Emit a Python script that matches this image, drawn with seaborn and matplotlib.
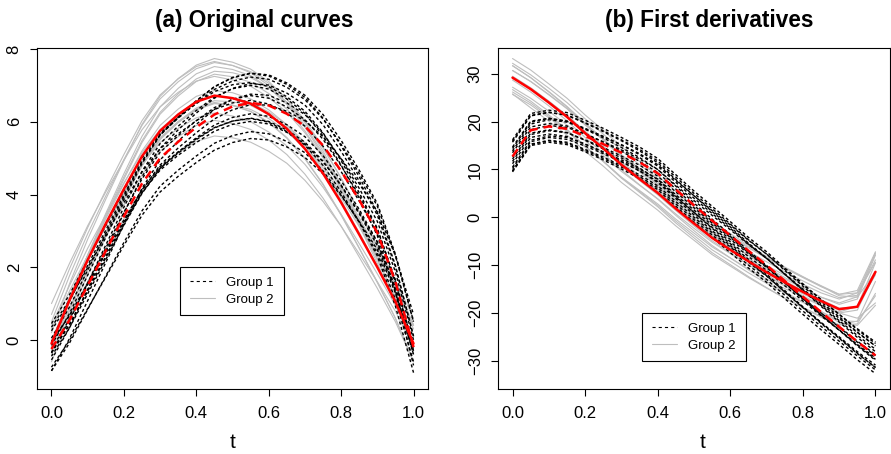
import matplotlib
matplotlib.use("Agg")
import matplotlib.pyplot as plt
import numpy as np
import pandas as pd
import seaborn as sns
from matplotlib.lines import Line2D

# Common evaluation grid on [0, 1]
t_grid = [0.0, 0.05, 0.1, 0.15, 0.2, 0.25, 0.3, 0.35, 0.4, 0.45, 0.5,
          0.55, 0.6, 0.65, 0.7, 0.75, 0.8, 0.85, 0.9, 0.95, 1.0]

# (a) original curves, group 1
grp1_curves = [
    [-0.15, 0.73, 1.78, 2.82, 3.86, 4.85, 5.63, 6.12, 6.57, 6.96, 7.21, 7.33, 7.26, 7.03, 6.67, 6.10, 5.34, 4.49, 3.51, 2.05, 0.10],
    [-0.75, -0.01, 0.86, 1.73, 2.60, 3.43, 4.07, 4.50, 4.88, 5.22, 5.43, 5.54, 5.50, 5.31, 5.02, 4.57, 3.97, 3.26, 2.48, 1.29, -0.30],
    [0.05, 0.91, 1.92, 2.93, 3.94, 4.90, 5.65, 6.14, 6.58, 6.97, 7.22, 7.34, 7.29, 7.07, 6.73, 6.20, 5.49, 4.67, 3.75, 2.36, 0.50],
    [-0.05, 0.68, 1.56, 2.43, 3.30, 4.13, 4.77, 5.17, 5.53, 5.84, 6.02, 6.10, 6.01, 5.78, 5.44, 4.92, 4.24, 3.47, 2.60, 1.31, -0.40],
    [-0.35, 0.42, 1.34, 2.26, 3.18, 4.05, 4.72, 5.14, 5.51, 5.83, 6.02, 6.09, 5.99, 5.73, 5.36, 4.80, 4.07, 3.24, 2.31, 0.93, -0.90],
    [-0.85, 0.04, 1.08, 2.13, 3.18, 4.17, 4.95, 5.47, 5.93, 6.34, 6.62, 6.76, 6.73, 6.52, 6.20, 5.68, 4.98, 4.17, 3.26, 1.87, 0.00],
    [0.35, 1.10, 1.99, 2.88, 3.77, 4.62, 5.26, 5.67, 6.03, 6.34, 6.52, 6.59, 6.49, 6.24, 5.88, 5.33, 4.63, 3.82, 2.92, 1.58, -0.20],
    [-0.25, 0.57, 1.55, 2.53, 3.51, 4.43, 5.16, 5.62, 6.03, 6.39, 6.62, 6.72, 6.65, 6.41, 6.06, 5.52, 4.79, 3.97, 3.04, 1.65, -0.20],
    [-0.35, 0.44, 1.37, 2.30, 3.23, 4.12, 4.81, 5.28, 5.70, 6.08, 6.33, 6.47, 6.46, 6.29, 6.03, 5.59, 4.99, 4.30, 3.52, 2.32, 0.70],
    [-0.35, 0.53, 1.57, 2.61, 3.65, 4.64, 5.40, 5.88, 6.31, 6.68, 6.91, 7.00, 6.90, 6.63, 6.23, 5.61, 4.81, 3.90, 2.87, 1.34, -0.70],
    [-0.85, -0.08, 0.84, 1.76, 2.68, 3.55, 4.23, 4.67, 5.06, 5.41, 5.62, 5.73, 5.67, 5.46, 5.15, 4.65, 3.99, 3.24, 2.39, 1.11, -0.60],
    [0.25, 1.07, 2.05, 3.02, 3.99, 4.92, 5.64, 6.10, 6.52, 6.89, 7.12, 7.23, 7.17, 6.95, 6.61, 6.08, 5.38, 4.58, 3.68, 2.32, 0.50],
    [-0.05, 0.67, 1.52, 2.38, 3.24, 4.05, 4.67, 5.08, 5.43, 5.74, 5.93, 6.01, 5.94, 5.71, 5.39, 4.90, 4.26, 3.51, 2.69, 1.45, -0.20],
    [-0.55, 0.34, 1.39, 2.44, 3.49, 4.49, 5.27, 5.78, 6.24, 6.65, 6.92, 7.05, 7.01, 6.79, 6.46, 5.92, 5.19, 4.37, 3.43, 2.01, 0.10],
    [-0.45, 0.34, 1.27, 2.21, 3.15, 4.03, 4.72, 5.17, 5.56, 5.91, 6.12, 6.22, 6.15, 5.92, 5.59, 5.07, 4.38, 3.59, 2.70, 1.37, -0.40],
    [0.45, 1.25, 2.20, 3.15, 4.10, 5.00, 5.69, 6.12, 6.50, 6.83, 7.02, 7.08, 6.97, 6.69, 6.29, 5.70, 4.93, 4.05, 3.07, 1.62, -0.30],
]

# (a) original curves, group 2
grp2_curves = [
    [0.20, 1.55, 2.77, 3.87, 4.93, 5.93, 6.70, 7.19, 7.56, 7.74, 7.64, 7.45, 7.11, 6.63, 5.99, 5.20, 4.27, 3.26, 2.22, 1.12, -0.20],
    [-0.40, 0.64, 1.61, 2.50, 3.33, 4.13, 4.74, 5.14, 5.46, 5.61, 5.56, 5.44, 5.19, 4.86, 4.39, 3.81, 3.13, 2.37, 1.60, 0.79, -0.20],
    [0.50, 1.77, 2.92, 3.96, 4.96, 5.90, 6.63, 7.10, 7.46, 7.63, 7.55, 7.38, 7.06, 6.63, 6.04, 5.31, 4.45, 3.51, 2.54, 1.53, 0.30],
    [0.00, 1.13, 2.17, 3.12, 4.02, 4.88, 5.54, 5.98, 6.33, 6.50, 6.46, 6.34, 6.09, 5.74, 5.25, 4.64, 3.92, 3.12, 2.31, 1.45, 0.40],
    [-0.40, 0.83, 1.95, 2.97, 3.93, 4.85, 5.56, 6.01, 6.36, 6.53, 6.45, 6.28, 5.98, 5.55, 4.98, 4.27, 3.43, 2.52, 1.58, 0.59, -0.60],
    [-0.30, 1.04, 2.26, 3.37, 4.42, 5.43, 6.21, 6.71, 7.11, 7.31, 7.24, 7.09, 6.78, 6.35, 5.75, 5.01, 4.14, 3.18, 2.20, 1.16, -0.10],
    [1.00, 2.11, 3.14, 4.07, 4.94, 5.78, 6.41, 6.81, 7.12, 7.25, 7.15, 6.98, 6.67, 6.26, 5.70, 5.02, 4.23, 3.36, 2.47, 1.53, 0.40],
    [-0.05, 1.20, 2.32, 3.33, 4.30, 5.20, 5.90, 6.35, 6.70, 6.86, 6.80, 6.63, 6.33, 5.92, 5.36, 4.66, 3.84, 2.95, 2.04, 1.07, -0.15],
    [0.30, 1.35, 2.32, 3.20, 4.04, 4.83, 5.43, 5.82, 6.11, 6.24, 6.16, 6.00, 5.72, 5.34, 4.83, 4.20, 3.46, 2.65, 1.82, 0.95, -0.10],
    [-0.20, 1.13, 2.33, 3.43, 4.48, 5.48, 6.26, 6.77, 7.18, 7.39, 7.35, 7.22, 6.94, 6.54, 5.98, 5.28, 4.45, 3.53, 2.60, 1.61, 0.40],
    [-0.20, 0.90, 1.92, 2.85, 3.72, 4.55, 5.19, 5.59, 5.90, 6.04, 5.95, 5.79, 5.50, 5.10, 4.56, 3.90, 3.13, 2.28, 1.42, 0.50, -0.60],
    [-0.30, 1.09, 2.34, 3.48, 4.57, 5.60, 6.41, 6.92, 7.32, 7.52, 7.44, 7.27, 6.94, 6.48, 5.85, 5.07, 4.15, 3.14, 2.11, 1.02, -0.30],
    [0.40, 1.50, 2.52, 3.44, 4.32, 5.15, 5.79, 6.22, 6.55, 6.71, 6.66, 6.53, 6.27, 5.92, 5.43, 4.82, 4.10, 3.31, 2.49, 1.64, 0.60],
    [-0.60, 0.66, 1.80, 2.84, 3.84, 4.78, 5.51, 5.98, 6.34, 6.52, 6.45, 6.29, 5.99, 5.57, 5.00, 4.29, 3.45, 2.53, 1.59, 0.60, -0.60],
    [-0.40, 0.80, 1.91, 2.92, 3.89, 4.80, 5.52, 6.00, 6.38, 6.58, 6.55, 6.45, 6.20, 5.86, 5.36, 4.74, 4.01, 3.19, 2.36, 1.48, 0.40],
    [0.70, 1.96, 3.09, 4.12, 5.10, 6.03, 6.74, 7.18, 7.52, 7.66, 7.55, 7.35, 7.00, 6.53, 5.90, 5.13, 4.23, 3.24, 2.24, 1.18, -0.10],
]

# (a) group means
grp1_mean = [-0.25, 0.55, 1.50, 2.45, 3.40, 4.30, 5.00, 5.45, 5.85, 6.20, 6.42,
             6.52, 6.45, 6.22, 5.88, 5.35, 4.65, 3.85, 2.95, 1.60, -0.20]
grp2_mean = [-0.10, 1.10, 2.20, 3.20, 4.15, 5.05, 5.75, 6.20, 6.55, 6.72, 6.65,
             6.50, 6.21, 5.81, 5.26, 4.58, 3.78, 2.90, 2.00, 1.05, -0.10]

# (b) first derivatives, group 1
grp1_deriv = [
    [15.7, 21.2, 21.9, 21.4, 19.8, 18.1, 16.2, 14.2, 11.8, 8.4, 5.0, 1.8, -1.4, -4.7, -7.7, -11.1, -14.4, -17.7, -20.8, -24.0, -26.9],
    [9.7, 15.2, 16.0, 15.5, 14.0, 12.3, 10.5, 8.5, 6.2, 2.8, -0.5, -3.7, -6.8, -10.0, -13.0, -16.3, -19.6, -22.8, -25.9, -29.0, -31.9],
    [12.7, 18.3, 19.2, 18.8, 17.4, 15.8, 14.1, 12.2, 10.0, 6.7, 3.5, 0.4, -2.6, -5.7, -8.6, -11.8, -15.0, -18.1, -21.1, -24.1, -26.9],
    [12.2, 17.6, 18.3, 17.7, 16.1, 14.3, 12.4, 10.3, 7.9, 4.4, 1.0, -2.3, -5.5, -8.8, -11.9, -15.3, -18.7, -22.0, -25.2, -28.4, -31.4],
    [16.2, 21.7, 22.4, 21.9, 20.3, 18.6, 16.7, 14.7, 12.3, 8.9, 5.5, 2.3, -0.9, -4.2, -7.2, -10.6, -13.9, -17.2, -20.3, -23.5, -26.4],
    [9.7, 15.3, 16.1, 15.7, 14.2, 12.6, 10.8, 8.9, 6.6, 3.3, 0.0, -3.2, -6.2, -9.4, -12.3, -15.6, -18.8, -22.0, -25.0, -28.1, -30.9],
    [14.7, 20.1, 20.7, 20.1, 18.4, 16.6, 14.6, 12.5, 10.0, 6.5, 3.0, -0.4, -3.6, -7.0, -10.1, -13.6, -17.0, -20.4, -23.6, -26.9, -29.9],
    [11.7, 17.3, 18.1, 17.7, 16.2, 14.6, 12.8, 10.9, 8.6, 5.3, 2.0, -1.2, -4.2, -7.4, -10.3, -13.6, -16.8, -20.0, -23.0, -26.1, -28.9],
    [13.9, 19.5, 20.4, 19.9, 18.5, 16.9, 15.2, 13.3, 11.0, 7.7, 4.5, 1.4, -1.6, -4.8, -7.7, -10.9, -14.1, -17.2, -20.3, -23.3, -26.1],
    [9.5, 15.0, 15.7, 15.2, 13.7, 12.0, 10.1, 8.1, 5.8, 2.3, -1.0, -4.2, -7.4, -10.6, -13.6, -17.0, -20.3, -23.5, -26.6, -29.8, -32.7],
    [14.4, 19.9, 20.7, 20.1, 18.6, 16.9, 15.1, 13.1, 10.7, 7.3, 4.0, 0.8, -2.3, -5.6, -8.6, -11.9, -15.2, -18.4, -21.6, -24.7, -27.6],
    [10.5, 16.1, 17.0, 16.7, 15.3, 13.7, 12.0, 10.1, 8.0, 4.7, 1.5, -1.6, -4.6, -7.6, -10.5, -13.7, -16.9, -20.0, -22.9, -25.9, -28.7],
    [13.5, 18.9, 19.6, 19.1, 17.5, 15.7, 13.8, 11.7, 9.4, 5.9, 2.5, -0.8, -4.0, -7.2, -10.3, -13.7, -17.1, -20.4, -23.5, -26.7, -29.7],
    [11.2, 16.7, 17.4, 16.9, 15.3, 13.6, 11.7, 9.7, 7.3, 3.9, 0.5, -2.8, -5.9, -9.2, -12.2, -15.6, -18.9, -22.2, -25.3, -28.5, -31.4],
    [15.9, 21.3, 22.0, 21.3, 19.7, 17.9, 16.0, 13.9, 11.4, 7.9, 4.5, 1.2, -2.0, -5.4, -8.5, -11.9, -15.3, -18.6, -21.9, -25.1, -28.1],
    [10.2, 15.8, 16.7, 16.3, 14.9, 13.3, 11.6, 9.7, 7.5, 4.2, 1.0, -2.1, -5.1, -8.2, -11.1, -14.3, -17.5, -20.6, -23.6, -26.6, -29.4],
]

# (b) first derivatives, group 2
grp2_deriv = [
    [32.2, 29.8, 27.0, 24.0, 20.6, 17.4, 14.0, 11.0, 8.1, 4.8, 1.7, -1.3, -3.8, -6.2, -8.5, -10.6, -12.6, -14.5, -16.1, -15.3, -7.2],
    [26.2, 23.9, 21.1, 18.2, 14.8, 11.7, 8.3, 5.4, 2.5, -0.8, -3.8, -6.8, -9.2, -11.6, -13.8, -15.9, -17.8, -19.7, -21.6, -21.8, -16.4],
    [31.7, 29.2, 26.3, 23.2, 19.7, 16.4, 12.9, 9.8, 6.8, 3.4, 0.2, -2.9, -5.5, -8.0, -10.4, -12.6, -14.7, -16.7, -18.2, -17.1, -7.9],
    [27.2, 24.9, 22.2, 19.3, 16.0, 12.9, 9.6, 6.7, 3.9, 0.7, -2.3, -5.2, -7.6, -9.9, -12.1, -14.1, -16.0, -17.8, -19.4, -18.8, -11.4],
    [30.7, 28.4, 25.7, 22.8, 19.5, 16.4, 13.1, 10.2, 7.4, 4.2, 1.2, -1.7, -4.1, -6.4, -8.6, -10.6, -12.5, -14.3, -16.1, -15.8, -9.4],
    [26.7, 24.3, 21.4, 18.4, 14.9, 11.7, 8.2, 5.2, 2.2, -1.2, -4.3, -7.4, -9.9, -12.4, -14.7, -16.9, -18.9, -20.9, -22.5, -21.7, -13.4],
    [29.2, 26.9, 24.1, 21.2, 17.8, 14.7, 11.3, 8.4, 5.5, 2.3, -0.8, -3.8, -6.2, -8.6, -10.8, -12.9, -14.8, -16.7, -17.9, -16.6, -7.4],
    [28.7, 26.2, 23.3, 20.2, 16.7, 13.4, 9.9, 6.8, 3.8, 0.4, -2.8, -5.9, -8.5, -11.0, -13.4, -15.6, -17.7, -19.7, -22.0, -22.6, -18.4],
    [33.2, 30.8, 27.9, 24.9, 21.4, 18.2, 14.7, 11.7, 8.7, 5.4, 2.2, -0.9, -3.4, -5.9, -8.2, -10.4, -12.4, -14.4, -16.4, -16.7, -11.4],
    [29.5, 27.1, 24.3, 21.3, 17.9, 14.7, 11.3, 8.3, 5.4, 2.1, -1.0, -4.0, -6.5, -8.9, -11.2, -13.3, -15.3, -17.2, -19.0, -18.7, -12.0],
    [25.7, 23.5, 20.8, 18.0, 14.7, 11.7, 8.4, 5.6, 2.8, -0.4, -3.3, -6.2, -8.5, -10.8, -12.9, -14.9, -16.7, -18.5, -19.8, -18.6, -9.5],
    [31.7, 29.2, 26.2, 23.1, 19.5, 16.2, 12.6, 9.5, 6.4, 3.0, -0.3, -3.5, -6.1, -8.7, -11.1, -13.4, -15.5, -17.6, -20.0, -21.1, -17.9],
    [29.2, 26.8, 23.9, 20.9, 17.4, 14.2, 10.7, 7.7, 4.7, 1.4, -1.8, -4.9, -7.4, -9.9, -12.2, -14.4, -16.4, -18.4, -20.0, -19.4, -11.5],
    [30.7, 28.4, 25.6, 22.7, 19.3, 16.2, 12.8, 9.9, 7.0, 3.8, 0.7, -2.3, -4.7, -7.1, -9.3, -11.4, -13.3, -15.2, -16.8, -16.3, -8.9],
    [25.8, 22.9, 20.1, 17.2, 13.8, 10.7, 7.3, 4.4, 1.5, -1.8, -4.8, -7.8, -10.2, -12.6, -14.8, -16.9, -18.8, -20.7, -22.5, -22.3, -15.9],
    [29.2, 26.9, 24.2, 21.3, 18.0, 14.9, 11.6, 8.7, 5.9, 2.7, -0.3, -3.2, -5.6, -7.9, -10.1, -12.1, -14.0, -15.8, -17.1, -15.8, -7.6],
]

# (b) group means of the derivatives
grp1_mean_deriv = [12.7, 18.2, 19.0, 18.5, 17.0, 15.3, 13.5, 11.5, 9.2, 5.8, 2.5,
                   -0.7, -3.8, -7.0, -10.0, -13.3, -16.6, -19.8, -22.9, -26.0, -28.9]
grp2_mean_deriv = [29.2, 26.8, 24.0, 21.0, 17.6, 14.4, 11.0, 8.0, 5.1, 1.8, -1.3,
                   -4.3, -6.8, -9.2, -11.5, -13.6, -15.6, -17.5, -19.2, -18.7, -11.4]

x_ticks = [0.0, 0.2, 0.4, 0.6, 0.8, 1.0]
x_tick_labels = ["0.0", "0.2", "0.4", "0.6", "0.8", "1.0"]
y_ticks_a = [0, 2, 4, 6, 8]
y_ticks_b = [-30, -20, -10, 0, 10, 20, 30]
legend_labels = ["Group 1", "Group 2"]
panel_titles = ["(a) Original curves", "(b) First derivatives"]

sns.set_theme(style="ticks")
plt.rcParams["font.family"] = ["Liberation Sans", "DejaVu Sans"]
plt.rcParams["axes.edgecolor"] = "black"
plt.rcParams["text.color"] = "black"
plt.rcParams["xtick.color"] = "black"
plt.rcParams["ytick.color"] = "black"

W, H = 891, 454
fig = plt.figure(figsize=(W / 100, H / 100), dpi=100)


def px_axes(x0, y0, x1, y1):
    return fig.add_axes([x0 / W, 1 - y1 / H, (x1 - x0) / W, (y1 - y0) / H])


def long_frame(curves):
    rows = [(i, tt, v) for i, c in enumerate(curves) for tt, v in zip(t_grid, c)]
    return pd.DataFrame(rows, columns=["curve", "t", "value"])


G1_DASH = (0, (2.2, 1.8))
RED_DASH = (0, (3.6, 2.4))
GREY = "#BEBEBE"


def draw_panel(ax, g1, g2, m1, m2):
    sns.lineplot(data=long_frame(g2), x="t", y="value", units="curve",
                 estimator=None, color=GREY, lw=0.8, ax=ax, legend=False)
    sns.lineplot(data=long_frame(g1), x="t", y="value", units="curve",
                 estimator=None, color="black", lw=1.0, linestyle=G1_DASH,
                 ax=ax, legend=False)
    sns.lineplot(x=t_grid, y=m2, estimator=None, color="red", lw=1.8, ax=ax)
    sns.lineplot(x=t_grid, y=m1, estimator=None, color="red", lw=1.8,
                 linestyle=RED_DASH, ax=ax)
    ax.set_xlim(-0.04, 1.04)
    ax.set_xticks(x_ticks, x_tick_labels)
    ax.set_xlabel("")
    ax.set_ylabel("")
    for sp in ax.spines.values():
        sp.set_visible(True)
        sp.set_linewidth(0.8)
        sp.set_color("black")
    ax.tick_params(direction="out", length=5, width=0.8, labelsize=12)
    ax.tick_params(axis="x", pad=7)
    ax.tick_params(axis="y", pad=6, labelrotation=90)


def add_legend(ax, x0, y0):
    handles = [Line2D([], [], color="black", lw=0.8, linestyle=(0, (2.8, 2.8))),
               Line2D([], [], color=GREY, lw=0.8)]
    leg = ax.legend(handles, legend_labels, loc="upper left",
                    bbox_to_anchor=(x0 / W, 1 - y0 / H),
                    bbox_transform=fig.transFigure, borderaxespad=0,
                    frameon=True, fancybox=False, framealpha=1,
                    edgecolor="black", fontsize=9.5, handlelength=1.9,
                    handletextpad=0.9, borderpad=0.72, labelspacing=0.35)
    leg.get_frame().set_linewidth(0.8)


ax_a = px_axes(37, 48, 428, 389)
draw_panel(ax_a, grp1_curves, grp2_curves, grp1_mean, grp2_mean)
ax_a.set_ylim(-1.35, 8.03)
ax_a.set_yticks(y_ticks_a)
for lab in ax_a.get_yticklabels():
    lab.set_va("center")
add_legend(ax_a, 180, 267)

ax_b = px_axes(498, 48, 890, 389)
draw_panel(ax_b, grp1_deriv, grp2_deriv, grp1_mean_deriv, grp2_mean_deriv)
ax_b.set_ylim(-35.9, 35.4)
ax_b.set_yticks(y_ticks_b)
for lab in ax_b.get_yticklabels():
    lab.set_va("center")
add_legend(ax_b, 642, 313)

fig.text(254 / W, 1 - 20 / H, panel_titles[0], ha="center", va="center",
         fontsize=16.3, fontweight="bold")
fig.text(709 / W, 1 - 20 / H, panel_titles[1], ha="center", va="center",
         fontsize=16.3, fontweight="bold")
fig.text(233 / W, 1 - 443 / H, "t", ha="center", va="center", fontsize=15)
fig.text(703 / W, 1 - 443 / H, "t", ha="center", va="center", fontsize=15)

fig.savefig("out.png", dpi=100)
